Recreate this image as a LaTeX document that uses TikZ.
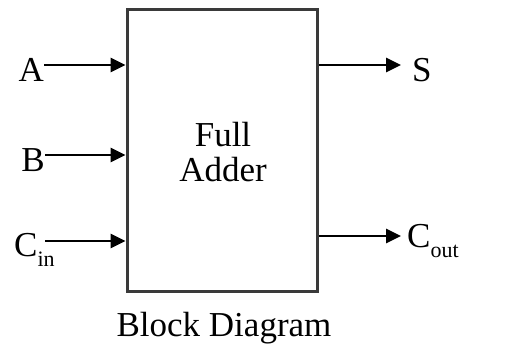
\documentclass[tikz,border=0pt]{standalone}
\usepackage{fontspec}
\setmainfont{Liberation Serif}
\usetikzlibrary{arrows.meta}
\definecolor{boxgray}{HTML}{3A3A3A}
\newcommand{\sub}[1]{\raisebox{-10pt}{\fontsize{22}{22}\selectfont #1}}
\begin{document}
\begin{tikzpicture}[x=1pt,y=-1pt,
  every node/.style={font=\fontsize{35}{35}\selectfont, inner sep=0pt},
  blockbox/.style={draw=boxgray, line width=3pt, minimum width=190pt, minimum height=282pt},
  sig/.style={line width=2.8pt, -{Triangle[length=15pt,width=14pt]}}]
\useasboundingbox (0,0) rectangle (517,347);
% the adder block
\node[blockbox] (fa) at (222,151) {};
\node[align=center] (name) at (223,152) {Full\\Adder};
\node[anchor=base] (cap) at (224,337) {Block Diagram};
% input labels
\node[anchor=base east] (A) at (44,82) {A};
\node[anchor=base east] (B) at (45,172) {B};
\node[anchor=base west] (Cin) at (14,257) {C\sub{in}};
% output labels
\node[anchor=base west] (S) at (412,82) {S};
\node[anchor=base west] (Cout) at (407,248) {C\sub{out}};
% connection points on the block
\coordinate (pA) at (fa.west |- 0,65);
\coordinate (pB) at (fa.west |- 0,155);
\coordinate (pC) at (fa.west |- 0,241);
\coordinate (sC) at (45,241);
\coordinate (pS) at (fa.east |- 0,65);
\coordinate (pCo) at (fa.east |- 0,236);
\coordinate (eS) at (401,65);
\coordinate (eCo) at (401,236);
% signals
\draw[sig] (A.east |- pA) -- (pA);
\draw[sig] (B.east |- pB) -- (pB);
\draw[sig] (sC) -- (pC);
\draw[sig] (pS) -- (eS);
\draw[sig] (pCo) -- (eCo);
\end{tikzpicture}
\end{document}
